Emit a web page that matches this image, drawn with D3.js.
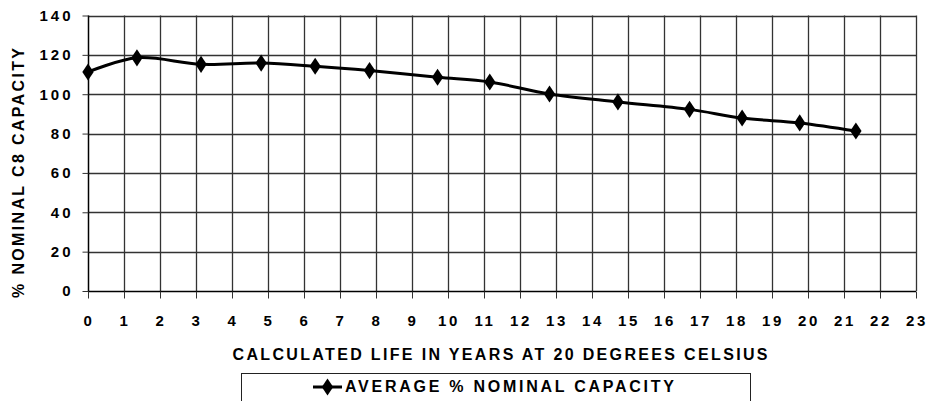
<!DOCTYPE html>
<html>
<head>
<meta charset="utf-8">
<script src="https://cdn.jsdelivr.net/npm/d3@7"></script>
<style>
  html, body { margin: 0; padding: 0; background: #fff; }
  svg { display: block; }
  text { font-family: "Liberation Sans", Arial, sans-serif; font-weight: bold; fill: #000; }
</style>
</head>
<body>
<svg id="chart" width="927" height="401"></svg>
<script>
// ---- data ----
const years = [0, 1.36, 3.14, 4.81, 6.31, 7.82, 9.71, 11.16, 12.82, 14.72, 16.71, 18.17, 19.77, 21.33];
const capacity = [111.3, 118.5, 115.2, 115.8, 114.2, 112.0, 108.6, 106.2, 100.1, 96.1, 92.3, 87.9, 85.4, 81.3];
const xTicks = d3.range(0, 24, 1);
const yTicks = [0, 20, 40, 60, 80, 100, 120, 140];
const seriesName = "AVERAGE % NOMINAL CAPACITY";
const xTitle = "CALCULATED LIFE IN YEARS AT 20 DEGREES CELSIUS";
const yTitle = "% NOMINAL C8 CAPACITY";

(function () {
const svg = d3.select("#chart");
const pLeft = 88, pRight = 916, pTop = 15.5, pBottom = 291;

const x = d3.scaleLinear().domain([0, 23]).range([pLeft, pRight]);
const y = d3.scaleLinear().domain([0, 140]).range([pBottom, pTop]);

const grid = svg.append("g");
grid.selectAll("line.h").data(yTicks.filter(d => d > 0)).join("line")
  .attr("x1", pLeft).attr("x2", pRight)
  .attr("y1", d => Math.round(y(d)) + 0.5).attr("y2", d => Math.round(y(d)) + 0.5)
  .attr("stroke", "#333").attr("stroke-width", 1.3);
grid.selectAll("line.v").data(xTicks.filter(d => d > 0)).join("line")
  .attr("x1", d => Math.round(x(d)) + 0.5).attr("x2", d => Math.round(x(d)) + 0.5)
  .attr("y1", pTop).attr("y2", pBottom)
  .attr("stroke", "#333").attr("stroke-width", 1.3);

// x axis
const xAxis = d3.axisBottom(x).tickValues(xTicks).tickSize(7).tickPadding(16.5).tickFormat(d3.format("d"));
const gx = svg.append("g").attr("transform", `translate(0,${Math.round(pBottom) + 0.5})`).call(xAxis);
gx.select(".domain").attr("stroke", "#000").attr("stroke-width", 1.5).attr("d", `M${pLeft},0H${pRight}`);
gx.selectAll(".tick line").attr("stroke", "#333");
gx.selectAll(".tick text").attr("font-size", 15).attr("font-family", "Liberation Sans, Arial, sans-serif")
  .attr("font-weight", "bold").attr("fill", "#000").style("letter-spacing", "2.6px").attr("dx", "0.5px");

// y axis
const yAxis = d3.axisLeft(y).tickValues(yTicks).tickSize(6).tickPadding(9).tickFormat(d3.format("d"));
const gy = svg.append("g").attr("transform", `translate(${pLeft + 0.5},0)`).call(yAxis);
gy.select(".domain").attr("stroke", "#000").attr("stroke-width", 1.5).attr("d", `M0,${pTop}V${pBottom}`);
gy.selectAll(".tick line").attr("stroke", "#333");
gy.selectAll(".tick text").attr("font-size", 15).attr("font-family", "Liberation Sans, Arial, sans-serif")
  .attr("font-weight", "bold").attr("fill", "#000").style("letter-spacing", "3px");

// line
const pts = years.map((v, i) => [v, capacity[i]]);
const line = d3.line().x(d => x(d[0])).y(d => y(d[1])).curve(d3.curveCatmullRom.alpha(0.5));
svg.append("path").datum(pts).attr("d", line)
  .attr("fill", "none").attr("stroke", "#000").attr("stroke-width", 3).attr("stroke-linejoin", "round");

// markers
const diamond = d3.symbol().type(d3.symbolDiamond).size(85);
svg.selectAll("path.m").data(pts).join("path")
  .attr("transform", d => `translate(${x(d[0])},${y(d[1])}) scale(1.15,1)`)
  .attr("d", diamond).attr("fill", "#000");

// axis titles
svg.append("text").attr("x", (232 + 768) / 2).attr("y", 359.5)
  .attr("text-anchor", "middle").attr("font-size", 16)
  .attr("textLength", 535).attr("lengthAdjust", "spacing").text(xTitle);

svg.append("text").attr("transform", `translate(24,173) rotate(-90)`)
  .attr("text-anchor", "middle").attr("font-size", 16)
  .attr("textLength", 250).attr("lengthAdjust", "spacing").text(yTitle);

// legend
const lg = svg.append("g");
lg.append("rect").attr("x", 241.5).attr("y", 373.5).attr("width", 509).attr("height", 40)
  .attr("fill", "#fff").attr("stroke", "#222").attr("stroke-width", 1);
lg.append("line").attr("x1", 313).attr("x2", 342).attr("y1", 387).attr("y2", 387)
  .attr("stroke", "#000").attr("stroke-width", 3);
lg.append("path").attr("transform", "translate(327.5,387) scale(1.15,1)").attr("d", diamond).attr("fill", "#000");
lg.append("text").attr("x", 345).attr("y", 392).attr("font-size", 16)
  .attr("textLength", 329).attr("lengthAdjust", "spacing").text(seriesName);
})();
</script>
</body>
</html>
